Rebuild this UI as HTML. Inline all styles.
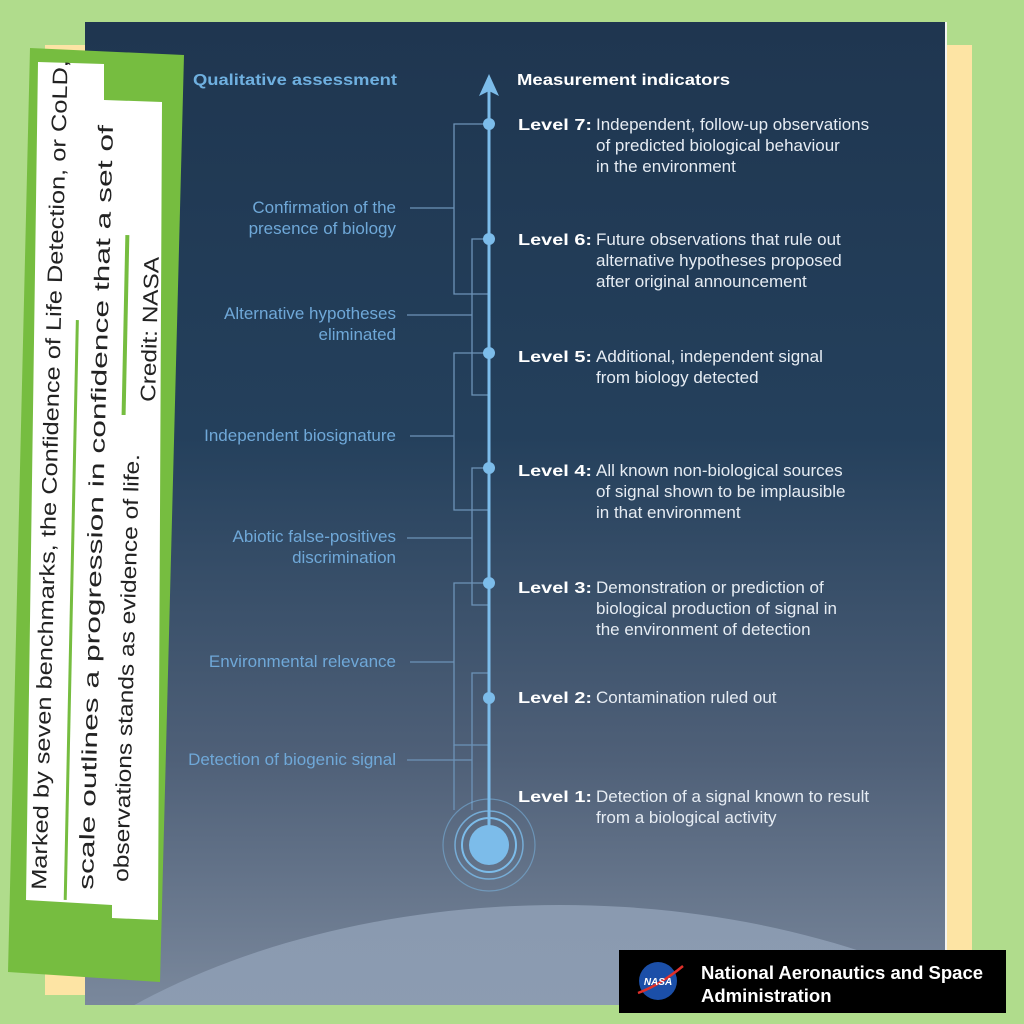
<!DOCTYPE html>
<html><head><meta charset="utf-8"><style>
html,body{margin:0;padding:0;background:#b0dc8c;width:1024px;height:1024px;overflow:hidden}
svg{display:block}
text{font-family:"Liberation Sans",sans-serif}
</style></head><body>
<svg width="1024" height="1024" viewBox="0 0 1024 1024" xmlns="http://www.w3.org/2000/svg">
<defs>
<linearGradient id="bg" x1="0" y1="0" x2="0" y2="1">
<stop offset="0" stop-color="#1f3650"/>
<stop offset="0.42" stop-color="#24405c"/>
<stop offset="0.75" stop-color="#4f6078"/>
<stop offset="1" stop-color="#7a889c"/>
</linearGradient>
<linearGradient id="pl" x1="0" y1="0" x2="0" y2="1">
<stop offset="0" stop-color="#8a9ab0"/>
<stop offset="1" stop-color="#97a6ba"/>
</linearGradient>
<clipPath id="pc"><rect x="85" y="22" width="860" height="983"/></clipPath>
</defs>
<rect width="1024" height="1024" fill="#b0dc8c"/>
<rect x="45" y="45" width="927" height="950" fill="#fde4a4"/>
<rect x="85" y="22" width="862" height="983" fill="#f4f4f0"/>
<rect x="85" y="22" width="860" height="983" fill="url(#bg)"/>
<g clip-path="url(#pc)">
<ellipse cx="560" cy="1300" rx="640" ry="395" fill="url(#pl)"/>
</g>
<!-- left panel -->
<polygon points="30,48 184,55 160,982 8,972" fill="#76bd40"/>
<polygon points="38,62 104,64 104,100 162,102 158,920 112,918 112,905 26,900" fill="#fff"/>
<rect x="70" y="320" width="3" height="580" fill="#76bd40" transform="rotate(1.2 70 600)"/>
<rect x="124" y="235" width="4" height="180" fill="#76bd40" transform="rotate(1.2 124 300)"/>
<g fill="#222" font-size="21">
<text transform="translate(46,890) rotate(-88.5)" x="0" y="0" textLength="830" lengthAdjust="spacingAndGlyphs">Marked by seven benchmarks,  the Confidence of Life Detection, or CoLD,</text>
<text transform="translate(93,890) rotate(-88.5)" x="0" y="0" textLength="765" lengthAdjust="spacingAndGlyphs">scale outlines a progression in confidence that a set of</text>
<text transform="translate(128,882) rotate(-88.5)" x="0" y="0" textLength="428" lengthAdjust="spacingAndGlyphs">observations stands as evidence of life.</text>
<text transform="translate(155,402) rotate(-88.5)" x="0" y="0" textLength="145" lengthAdjust="spacingAndGlyphs">Credit: NASA</text>
</g>
<!-- headers -->
<text x="193" y="85" fill="#6fb0e0" font-size="16" font-weight="bold" textLength="204" lengthAdjust="spacingAndGlyphs">Qualitative assessment</text>
<text x="517" y="85" fill="#fff" font-size="16" font-weight="bold" textLength="213" lengthAdjust="spacingAndGlyphs">Measurement indicators</text>
<!-- brackets -->
<g stroke="#6d93b8" stroke-width="1.3" fill="none">
<polyline points="489,124 454,124 454,294 489,294"/><line x1="410" y1="208" x2="454" y2="208"/>
<polyline points="489,239 472,239 472,395 489,395"/><line x1="407" y1="315" x2="472" y2="315"/>
<polyline points="489,353 454,353 454,510 489,510"/><line x1="410" y1="436" x2="454" y2="436"/>
<polyline points="489,468 472,468 472,605 489,605"/><line x1="407" y1="538" x2="472" y2="538"/>
<polyline points="489,583 454,583 454,745 489,745"/><line x1="410" y1="662" x2="454" y2="662"/>
<polyline points="489,673 472,673 472,810"/><line x1="407" y1="760" x2="472" y2="760"/>
<line x1="454" y1="745" x2="454" y2="810"/>
</g>
<!-- axis -->
<line x1="489" y1="90" x2="489" y2="830" stroke="#7cbcea" stroke-width="3"/>
<polygon points="489,74 479,96 489,91 499,96" fill="#7cbcea"/>
<g fill="#7cbcea">
<circle cx="489" cy="124" r="6"/><circle cx="489" cy="239" r="6"/><circle cx="489" cy="353" r="6"/>
<circle cx="489" cy="468" r="6"/><circle cx="489" cy="583" r="6"/><circle cx="489" cy="698" r="6"/>
<circle cx="489" cy="845" r="20"/>
</g>
<g fill="none" stroke="#7cbcea">
<circle cx="489" cy="845" r="27" stroke-width="2"/>
<circle cx="489" cy="845" r="34" stroke-width="1.5" opacity="0.8"/>
<circle cx="489" cy="845" r="46" stroke-width="1.2" opacity="0.5"/>
</g>
<!-- left labels -->
<g fill="#6fa8d8" font-size="17" text-anchor="end">
<text x="396" y="213">Confirmation of the</text><text x="396" y="234">presence of biology</text>
<text x="396" y="319">Alternative hypotheses</text><text x="396" y="340">eliminated</text>
<text x="396" y="441">Independent biosignature</text>
<text x="396" y="542">Abiotic false-positives</text><text x="396" y="563">discrimination</text>
<text x="396" y="667">Environmental relevance</text>
<text x="396" y="765">Detection of biogenic signal</text>
</g>
<!-- right labels -->
<g font-size="16" font-weight="bold" fill="#fff">
<text x="518" y="130" textLength="74" lengthAdjust="spacingAndGlyphs">Level 7:</text>
<text x="518" y="245" textLength="74" lengthAdjust="spacingAndGlyphs">Level 6:</text>
<text x="518" y="362" textLength="74" lengthAdjust="spacingAndGlyphs">Level 5:</text>
<text x="518" y="476" textLength="74" lengthAdjust="spacingAndGlyphs">Level 4:</text>
<text x="518" y="593" textLength="74" lengthAdjust="spacingAndGlyphs">Level 3:</text>
<text x="518" y="703" textLength="74" lengthAdjust="spacingAndGlyphs">Level 2:</text>
<text x="518" y="802" textLength="74" lengthAdjust="spacingAndGlyphs">Level 1:</text>
</g>
<g font-size="17" fill="#e6ecf3">
<text x="596" y="130">Independent, follow-up observations</text>
<text x="596" y="151">of predicted biological behaviour</text><text x="596" y="172">in the environment</text>
<text x="596" y="245">Future observations that rule out</text>
<text x="596" y="266">alternative hypotheses proposed</text><text x="596" y="287">after original announcement</text>
<text x="596" y="362">Additional, independent signal</text>
<text x="596" y="383">from biology detected</text>
<text x="596" y="476">All known non-biological sources</text>
<text x="596" y="497">of signal shown to be implausible</text><text x="596" y="518">in that environment</text>
<text x="596" y="593">Demonstration or prediction of</text>
<text x="596" y="614">biological production of signal in</text><text x="596" y="635">the environment of detection</text>
<text x="596" y="703">Contamination ruled out</text>
<text x="596" y="802">Detection of a signal known to result</text>
<text x="596" y="823">from a biological activity</text>
</g>
<!-- NASA box -->
<rect x="619" y="950" width="387" height="63" fill="#000"/>
<circle cx="658" cy="981" r="19" fill="#1b4fa8"/>
<path d="M638,993 Q660,985 683,966" stroke="#e0302a" stroke-width="2.5" fill="none"/>
<text x="658" y="985" fill="#fff" font-size="10" font-weight="bold" text-anchor="middle" font-style="italic">NASA</text>
<text x="701" y="979" fill="#fff" font-size="18.5" font-weight="bold">National Aeronautics and Space</text>
<text x="701" y="1002" fill="#fff" font-size="18.5" font-weight="bold">Administration</text>
</svg>
</body></html>
